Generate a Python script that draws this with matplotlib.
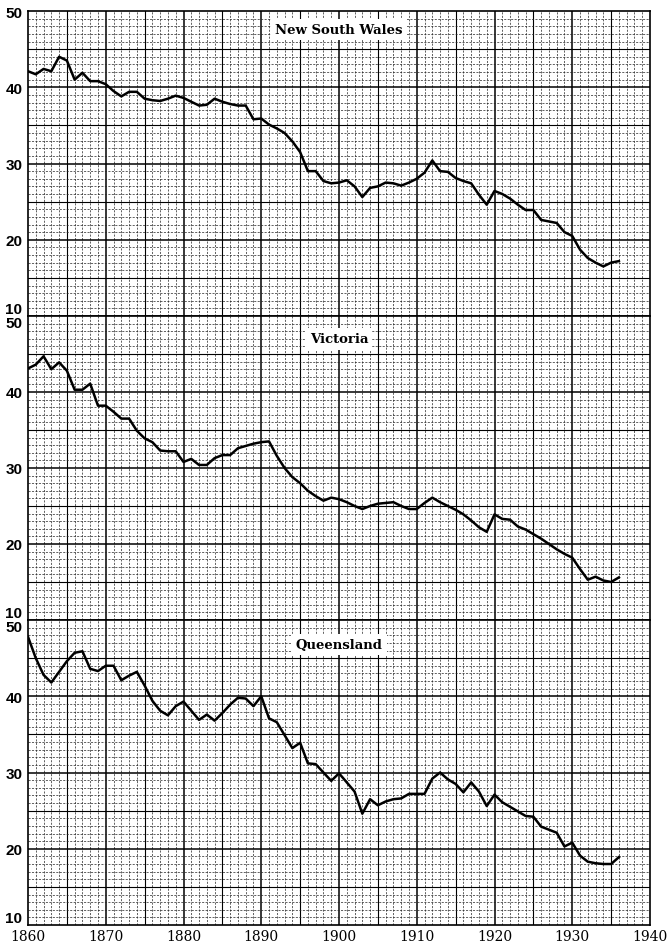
import numpy as np
import matplotlib
matplotlib.use('Agg')
import matplotlib.pyplot as plt

years = list(range(1860, 1937))

nsw = [42.1, 41.7, 42.4, 42.1, 44.0, 43.5, 41.0, 41.9, 40.8, 40.8,
       40.4, 39.5, 38.8, 39.4, 39.4, 38.5, 38.3, 38.2, 38.5, 38.9,
       38.6, 38.1, 37.6, 37.7, 38.5, 38.1, 37.8, 37.6, 37.6, 35.8,
       35.9, 35.1, 34.6, 34.0, 32.9, 31.5, 29.0, 29.0, 27.7, 27.4,
       27.5, 27.8, 27.0, 25.6, 26.8, 27.0, 27.5, 27.4, 27.1, 27.5,
       28.0, 28.8, 30.4, 29.0, 28.9, 28.1, 27.7, 27.4, 25.9, 24.6,
       26.4, 26.0, 25.4, 24.6, 23.9, 23.9, 22.6, 22.4, 22.2, 21.0,
       20.5, 18.7, 17.6, 17.0, 16.5, 17.0, 17.2]

victoria = [43.1, 43.6, 44.7, 43.0, 43.9, 42.8, 40.3, 40.3, 41.1, 38.2,
            38.2, 37.4, 36.5, 36.5, 34.9, 33.9, 33.4, 32.3, 32.2, 32.2,
            30.8, 31.2, 30.4, 30.4, 31.3, 31.7, 31.7, 32.6, 32.9, 33.2,
            33.4, 33.5, 31.6, 30.0, 28.8, 28.0, 27.0, 26.3, 25.7, 26.1,
            25.9, 25.5, 25.0, 24.6, 25.0, 25.3, 25.4, 25.5, 25.0, 24.6,
            24.6, 25.4, 26.1, 25.5, 25.0, 24.5, 23.9, 23.1, 22.2, 21.6,
            23.9, 23.3, 23.2, 22.3, 21.9, 21.3, 20.7, 20.0, 19.3, 18.7,
            18.2, 16.7, 15.3, 15.7, 15.2, 15.0, 15.6]

queensland = [47.8, 45.0, 42.8, 41.8, 43.2, 44.6, 45.7, 45.9, 43.6, 43.3,
              44.0, 44.0, 42.1, 42.7, 43.2, 41.4, 39.4, 38.1, 37.5, 38.7,
              39.3, 38.1, 36.9, 37.6, 36.8, 37.8, 38.9, 39.8, 39.7, 38.7,
              40.0, 37.1, 36.6, 34.9, 33.2, 33.9, 31.2, 31.1, 30.0, 28.9,
              29.9, 28.7, 27.5, 24.6, 26.5, 25.7, 26.2, 26.5, 26.6, 27.2,
              27.2, 27.2, 29.2, 30.0, 29.1, 28.5, 27.4, 28.7, 27.5, 25.6,
              27.1, 26.1, 25.5, 24.9, 24.3, 24.2, 22.9, 22.5, 22.1, 20.3,
              20.8, 19.1, 18.3, 18.1, 18.0, 18.0, 18.9]

states = ['New South Wales', 'Victoria', 'Queensland']
series = [nsw, victoria, queensland]
year_ticks = list(range(1860, 1941, 10))
rate_ticks = [10, 20, 30, 40, 50]


def draw_graph_paper(ax):
    # fine ruling every unit, solid every 5, heavier every 10
    for x in range(1861, 1940):
        if x % 5:
            ax.axvline(x, color='#222222', lw=0.5, ls=(0, (3, 2)), zorder=1)
        elif x % 10:
            ax.axvline(x, color='black', lw=0.8, zorder=1)
        else:
            ax.axvline(x, color='black', lw=1.1, zorder=1)
    for y in range(11, 50):
        if y % 5:
            ax.axhline(y, color='#222222', lw=0.5, ls=(0, (3, 2)), zorder=1)
        elif y % 10:
            ax.axhline(y, color='black', lw=0.8, zorder=1)
        else:
            ax.axhline(y, color='black', lw=1.1, zorder=1)


fig = plt.figure(figsize=(6.69, 9.45), dpi=100)
left, right = 28 / 669, 650 / 669
edges = [12, 317, 621, 926]
title_y = [0.94, 0.925, 0.92]

for i, (name, values) in enumerate(zip(states, series)):
    top = 1 - edges[i] / 945
    bottom = 1 - edges[i + 1] / 945
    ax = fig.add_axes([left, bottom, right - left, top - bottom])
    ax.set_xlim(1860, 1940)
    ax.set_ylim(10, 50)
    draw_graph_paper(ax)
    ax.plot(years, values, color='black', lw=1.8, zorder=3)

    ax.set_yticks(rate_ticks)
    ax.set_yticklabels([str(t) for t in rate_ticks], fontsize=11,
                       fontweight='bold', family='Liberation Sans')
    labels = ax.get_yticklabels()
    if i > 0:
        labels[-1].set_va('top')
    labels[0].set_va('bottom')
    ax.tick_params(axis='y', length=0, pad=4)

    ax.set_xticks(year_ticks)
    if i == 2:
        ax.set_xticklabels([str(t) for t in year_ticks], fontsize=10,
                           family='DejaVu Serif')
        ax.tick_params(axis='x', length=0, pad=3)
    else:
        ax.tick_params(axis='x', length=0, labelbottom=False)

    for s in ax.spines.values():
        s.set_linewidth(1.2)

    ax.text(0.5, title_y[i], name, transform=ax.transAxes,
            ha='center', va='center', fontsize=9.5, fontweight='bold',
            family='DejaVu Serif', zorder=5,
            bbox=dict(facecolor='white', edgecolor='none', pad=3))

fig.savefig('out.png', dpi=100)
